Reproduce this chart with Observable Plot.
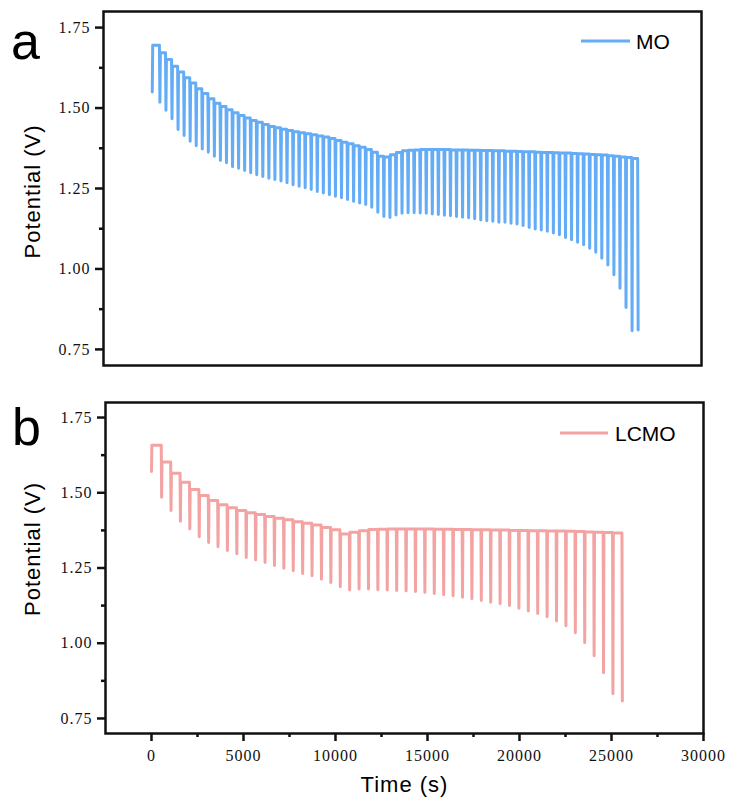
<!DOCTYPE html>
<html>
<head>
<meta charset="utf-8">
<script src="https://cdn.jsdelivr.net/npm/d3@7"></script>
<script src="https://cdn.jsdelivr.net/npm/@observablehq/plot@0.6"></script>
<style>
  html, body { margin: 0; padding: 0; background: #fff; }
  #wrap { position: relative; width: 729px; height: 805px; overflow: hidden; }
  #wrap > .panel { position: absolute; left: 0; }
  #overlay { position: absolute; left: 0; top: 0; pointer-events: none; }
</style>
</head>
<body>
<div id="wrap">
  <div class="panel" id="pa" style="top:0px"></div>
  <div class="panel" id="pb" style="top:390px"></div>
  <svg id="overlay" width="729" height="805" font-family="Liberation Sans, Arial, sans-serif">
    <text x="11" y="59" font-size="52" fill="#000">a</text>
    <text x="12" y="445" font-size="52" fill="#000">b</text>
    <line x1="581" x2="630" y1="41" y2="41" stroke="#64adf6" stroke-width="3.2"/>
    <text x="636" y="41" dy="0.36em" font-size="21" fill="#000">MO</text>
    <line x1="560" x2="608" y1="433" y2="433" stroke="#f4a3a3" stroke-width="3.2"/>
    <text x="615" y="433" dy="0.36em" font-size="21" fill="#000">LCMO</text>
  </svg>
</div>
<script>
// ---- Data ----
const seriesNames = ["MO", "LCMO"];
const yTicks = [0.75, 1.00, 1.25, 1.50, 1.75];
const yMinor = [0.875, 1.125, 1.375, 1.625];
const xTicks = [0, 5000, 10000, 15000, 20000, 25000, 30000];
const xMinor = [2500, 7500, 12500, 17500, 22500, 27500];

// MO: start of record, then each pulse: time (s), potential just before pulse (V), potential at pulse end (V)
const moStart = {t: 150, v: 1.550};
const moTime = [540, 869, 1198, 1527, 1856, 2185, 2514, 2843, 3172, 3501,
  3830, 4159, 4488, 4817, 5146, 5475, 5804, 6133, 6462, 6791,
  7120, 7449, 7778, 8107, 8436, 8765, 9094, 9423, 9752, 10081,
  10410, 10739, 11068, 11397, 11726, 12055, 12384, 12713, 13042, 13371,
  13700, 14029, 14358, 14687, 15016, 15345, 15674, 16003, 16332, 16661,
  16990, 17319, 17648, 17977, 18306, 18635, 18964, 19293, 19622, 19951,
  20280, 20609, 20938, 21267, 21596, 21925, 22254, 22583, 22912, 23241,
  23570, 23899, 24228, 24557, 24886, 25215, 25544, 25873, 26202, 26531];
const moTop = [1.695, 1.672, 1.651, 1.630, 1.612, 1.594, 1.578, 1.560, 1.545, 1.529,
  1.515, 1.505, 1.495, 1.485, 1.477, 1.469, 1.461, 1.456, 1.449, 1.443,
  1.439, 1.434, 1.430, 1.426, 1.423, 1.420, 1.417, 1.413, 1.410, 1.405,
  1.399, 1.394, 1.389, 1.383, 1.378, 1.371, 1.363, 1.350, 1.348, 1.355,
  1.362, 1.367, 1.369, 1.370, 1.371, 1.371, 1.371, 1.371, 1.371, 1.370,
  1.370, 1.370, 1.369, 1.369, 1.368, 1.368, 1.367, 1.367, 1.366, 1.366,
  1.365, 1.364, 1.364, 1.363, 1.362, 1.362, 1.361, 1.360, 1.360, 1.359,
  1.358, 1.357, 1.356, 1.355, 1.354, 1.352, 1.350, 1.348, 1.346, 1.343];
const moBottom = [1.518, 1.493, 1.467, 1.433, 1.415, 1.397, 1.383, 1.373, 1.363, 1.350,
  1.337, 1.330, 1.318, 1.313, 1.306, 1.299, 1.293, 1.287, 1.282, 1.278,
  1.273, 1.268, 1.262, 1.257, 1.252, 1.247, 1.241, 1.236, 1.231, 1.226,
  1.221, 1.216, 1.210, 1.205, 1.200, 1.192, 1.176, 1.163, 1.160, 1.168,
  1.173, 1.175, 1.175, 1.174, 1.173, 1.171, 1.169, 1.167, 1.165, 1.163,
  1.161, 1.159, 1.156, 1.152, 1.150, 1.148, 1.145, 1.145, 1.142, 1.140,
  1.135, 1.129, 1.124, 1.121, 1.117, 1.112, 1.106, 1.098, 1.091, 1.083,
  1.075, 1.064, 1.052, 1.033, 1.012, 0.982, 0.940, 0.880, 0.808, 0.810];

// LCMO
const lcmoStart = {t: 0, v: 1.571};
const lcmoTime = [530, 1041, 1552, 2063, 2574, 3085, 3596, 4107, 4618, 5129,
  5640, 6151, 6662, 7173, 7684, 8195, 8706, 9217, 9728, 10239,
  10750, 11261, 11772, 12283, 12794, 13305, 13816, 14327, 14838, 15349,
  15860, 16371, 16882, 17393, 17904, 18415, 18926, 19437, 19948, 20459,
  20970, 21481, 21992, 22503, 23014, 23525, 24036, 24547, 25058, 25569];
const lcmoTop = [1.658, 1.602, 1.565, 1.535, 1.511, 1.491, 1.474, 1.460, 1.450, 1.441,
  1.434, 1.428, 1.421, 1.415, 1.410, 1.404, 1.399, 1.393, 1.385, 1.377,
  1.363, 1.369, 1.374, 1.378, 1.379, 1.380, 1.380, 1.380, 1.380, 1.380,
  1.379, 1.379, 1.378, 1.378, 1.377, 1.377, 1.376, 1.376, 1.375, 1.375,
  1.374, 1.374, 1.373, 1.373, 1.372, 1.371, 1.370, 1.369, 1.368, 1.366];
const lcmoBottom = [1.485, 1.441, 1.405, 1.380, 1.354, 1.335, 1.321, 1.308, 1.297, 1.285,
  1.277, 1.268, 1.258, 1.249, 1.241, 1.232, 1.224, 1.213, 1.202, 1.188,
  1.177, 1.180, 1.180, 1.178, 1.177, 1.175, 1.174, 1.172, 1.169, 1.165,
  1.161, 1.158, 1.153, 1.148, 1.142, 1.136, 1.131, 1.125, 1.116, 1.107,
  1.099, 1.088, 1.074, 1.058, 1.035, 1.002, 0.958, 0.902, 0.832, 0.808];

const colors = {MO: "#64adf6", LCMO: "#f4a3a3"};

// Build the trace from the read values: rest level -> pulse drop -> recovery to next rest level
function buildRows(start, times, tops, bottoms, pulse) {
  const rows = [{t: start.t, v: start.v}];
  let prevEnd = start.t;
  for (let i = 0; i < times.length; i++) {
    rows.push({t: prevEnd + pulse, v: tops[i]});
    rows.push({t: times[i], v: tops[i]});
    rows.push({t: times[i] + pulse, v: bottoms[i]});
    prevEnd = times[i] + pulse;
  }
  return rows;
}
const moRows = buildRows(moStart, moTime, moTop, moBottom, 25);
const lcmoRows = buildRows(lcmoStart, lcmoTime, lcmoTop, lcmoBottom, 20);

const tickFont = {fontFamily: "Liberation Serif, Times New Roman, serif", fontSize: "16px", color: "#111", background: "white", letterSpacing: "1px", overflow: "visible"};

function yAxes() {
  return [
    Plot.axisY(yTicks, {tickSize: 8, tickPadding: 5, tickFormat: d3.format(".2f"), strokeWidth: 2.5, label: null}),
    Plot.axisY(yMinor, {tickSize: 4, tickFormat: () => "", strokeWidth: 2.5, label: null})
  ];
}

const chartA = Plot.plot({
  width: 729, height: 380,
  marginTop: 11, marginBottom: 15, marginLeft: 103, marginRight: 28,
  x: {domain: [-2500, 30000], axis: null},
  y: {domain: [0.7, 1.8], axis: null},
  style: tickFont,
  marks: [
    ...yAxes(),
    Plot.line(moRows, {x: "t", y: "v", stroke: colors.MO, strokeWidth: 3.0, strokeLinejoin: "round", strokeLinecap: "round"}),
    Plot.frame({strokeWidth: 2.5}),
    Plot.text(["Potential (V)"], {text: d => d, frameAnchor: "left", dx: -71, dy: 3, rotate: -90, textAnchor: "middle", lineAnchor: "middle", fontFamily: "Liberation Sans, Arial, sans-serif", fontSize: 22, fill: "#000"})
  ]
});
document.getElementById("pa").appendChild(chartA);

const chartB = Plot.plot({
  width: 729, height: 415,
  marginTop: 12, marginBottom: 72, marginLeft: 105, marginRight: 26,
  x: {domain: [-2500, 30000], axis: null},
  y: {domain: [0.7, 1.8], axis: null},
  style: tickFont,
  marks: [
    ...yAxes(),
    Plot.axisX(xTicks, {tickSize: 8, tickPadding: 8, tickFormat: d3.format("d"), strokeWidth: 2.5, label: null}),
    Plot.axisX(xMinor, {tickSize: 4, tickFormat: () => "", strokeWidth: 2.5, label: null}),
    Plot.line(lcmoRows, {x: "t", y: "v", stroke: colors.LCMO, strokeWidth: 3.0, strokeLinejoin: "round", strokeLinecap: "round"}),
    Plot.frame({strokeWidth: 2.5}),
    Plot.text(["Potential (V)"], {text: d => d, frameAnchor: "left", dx: -73, dy: -19, rotate: -90, textAnchor: "middle", lineAnchor: "middle", fontFamily: "Liberation Sans, Arial, sans-serif", fontSize: 22, fill: "#000"}),
    Plot.text(["Time (s)"], {text: d => d, frameAnchor: "bottom", dy: 51, textAnchor: "middle", lineAnchor: "middle", fontFamily: "Liberation Sans, Arial, sans-serif", fontSize: 22, fill: "#000"})
  ]
});
document.getElementById("pb").appendChild(chartB);
</script>
</body>
</html>
